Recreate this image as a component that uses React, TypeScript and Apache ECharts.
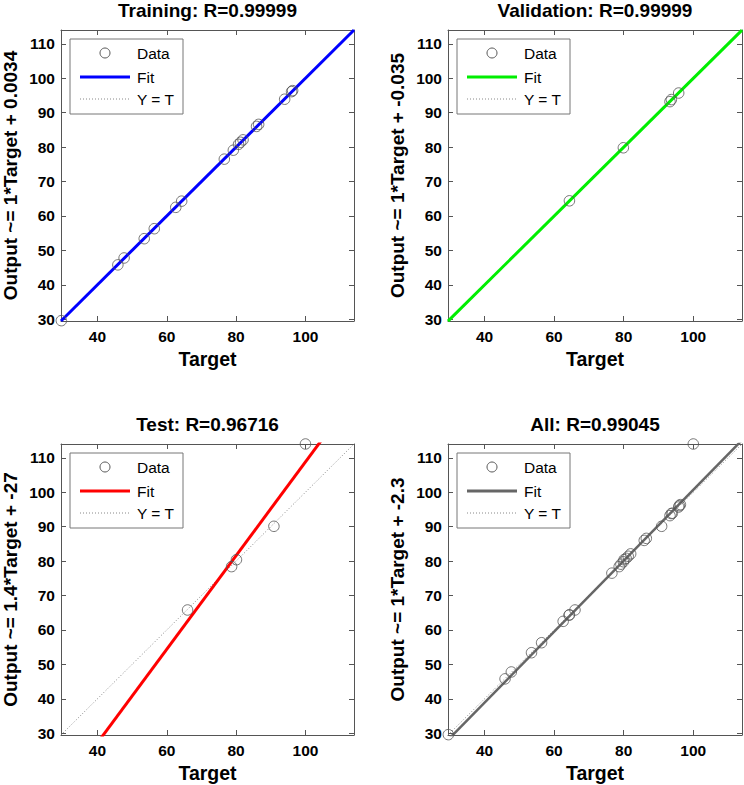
import React, { useEffect, useRef } from "react";
import * as echarts from "echarts";

// ---- data ----
const axisMin = 29.5;
const axisMax = 114;
const xTicks = [40, 60, 80, 100];
const yTicks = [30, 40, 50, 60, 70, 80, 90, 100, 110];

const trainTarget = [29.6, 45.9, 47.7, 53.5, 56.4, 62.6, 64.3, 76.6, 79.2, 80.7, 81.3, 82.0, 85.9, 86.5, 94.0, 96.0, 96.3];
const trainOutput = [29.6, 45.8, 47.8, 53.4, 56.3, 62.5, 64.3, 76.5, 79.1, 80.8, 81.4, 82.1, 86.0, 86.6, 93.9, 96.1, 96.4];

const valTarget = [64.4, 79.9, 93.3, 93.7, 95.8];
const valOutput = [64.4, 79.8, 93.2, 93.8, 95.7];

const testTarget = [66.0, 78.7, 80.1, 90.9, 100.0];
const testOutput = [65.8, 78.4, 80.4, 90.1, 114.0];

const panelTitles = ["Training: R=0.99999", "Validation: R=0.99999", "Test: R=0.96716", "All: R=0.99045"];
const yLabels = [
  "Output ~= 1*Target + 0.0034",
  "Output ~= 1*Target + -0.035",
  "Output ~= 1.4*Target + -27",
  "Output ~= 1*Target + -2.3",
];
const fitSlope = [1, 1, 1.36, 1.03];
const fitIntercept = [0.0034, -0.035, -27.2, -2.3];
const fitColors = ["#0000ff", "#00ee00", "#ff0000", "#666666"];

// ---- layout ----
const layout = [
  { left: 61, top: 30, width: 293, height: 291 },
  { left: 448, top: 30, width: 294, height: 291 },
  { left: 61, top: 444, width: 293, height: 291 },
  { left: 448, top: 444, width: 294, height: 291 },
];

const FONT = '"Liberation Sans", Arial, sans-serif';

function zip(a: number[], b: number[]) {
  return a.map((v, i) => [v, b[i]]);
}

export default function App() {
  const ref = useRef<HTMLDivElement>(null);
  useEffect(() => {
    if (!ref.current) return;
    const chart = echarts.init(ref.current, null, { renderer: "svg" });

    const allTarget = [...trainTarget, ...valTarget, ...testTarget];
    const allOutput = [...trainOutput, ...valOutput, ...testOutput];
    const pointSets = [
      zip(trainTarget, trainOutput),
      zip(valTarget, valOutput),
      zip(testTarget, testOutput),
      zip(allTarget, allOutput),
    ];

    const grids: any[] = [];
    const xAxes: any[] = [];
    const yAxes: any[] = [];
    const series: any[] = [];
    const graphics: any[] = [];

    const axisLineStyle = { color: "#555", width: 1 };

    layout.forEach((p, i) => {
      grids.push({
        left: p.left,
        top: p.top,
        width: p.width,
        height: p.height,
        containLabel: false,
        outerBoundsMode: "none",
        show: false,
      });
      const baseX = {
        type: "value",
        gridIndex: i,
        min: axisMin,
        max: axisMax,
        splitLine: { show: false },
        axisLine: { show: true, onZero: false, lineStyle: axisLineStyle },
        axisTick: { show: true, inside: true, length: 5, customValues: xTicks, lineStyle: axisLineStyle },
      };
      xAxes.push({
        ...baseX,
        position: "bottom",
        axisLabel: {
          customValues: xTicks,
          margin: 7,
          color: "#000",
          fontSize: 15.5,
          fontWeight: "bold",
          fontFamily: FONT,
        },
      });
      xAxes.push({ ...baseX, position: "top", axisLabel: { show: false } });
      const baseY = {
        type: "value",
        gridIndex: i,
        min: axisMin,
        max: axisMax,
        splitLine: { show: false },
        axisLine: { show: true, onZero: false, lineStyle: axisLineStyle },
        axisTick: { show: true, inside: true, length: 5, customValues: yTicks, lineStyle: axisLineStyle },
      };
      yAxes.push({
        ...baseY,
        position: "left",
        axisLabel: {
          customValues: yTicks,
          margin: 6,
          color: "#000",
          fontSize: 15.5,
          fontWeight: "bold",
          fontFamily: FONT,
        },
      });
      yAxes.push({ ...baseY, position: "right", axisLabel: { show: false } });

      const s = fitSlope[i];
      const b = fitIntercept[i];
      series.push({
        type: "line",
        xAxisIndex: 2 * i,
        yAxisIndex: 2 * i,
        data: [
          [axisMin, axisMin],
          [axisMax, axisMax],
        ],
        symbol: "none",
        silent: true,
        lineStyle: { color: "#888", width: 1, type: [1, 2] },
        z: 2,
      });
      series.push({
        type: "line",
        xAxisIndex: 2 * i,
        yAxisIndex: 2 * i,
        data: [
          [axisMin, s * axisMin + b],
          [axisMax, s * axisMax + b],
        ],
        symbol: "none",
        silent: true,
        clip: true,
        lineStyle: { color: fitColors[i], width: i === 3 ? 2.5 : 3 },
        z: 3,
      });
      series.push({
        type: "scatter",
        xAxisIndex: 2 * i,
        yAxisIndex: 2 * i,
        data: pointSets[i],
        symbol: "circle",
        symbolSize: 10.5,
        silent: true,
        itemStyle: { color: "rgba(0,0,0,0)", borderColor: "#555", borderWidth: 1 },
        z: 5,
      });

      const cx = p.left + p.width / 2;
      const cy = p.top + p.height / 2;
      const textStyle = (text: string, size: number, weight: string, align: string) => ({
        text,
        fill: "#000",
        fontSize: size,
        fontWeight: weight,
        fontFamily: FONT,
        align,
        textAlign: align,
        verticalAlign: "middle",
        textVerticalAlign: "middle",
      });
      // title
      graphics.push({
        type: "text",
        x: cx,
        y: p.top - 20,
        style: textStyle(panelTitles[i], 19, "bold", "center"),
      });
      // x label
      graphics.push({
        type: "text",
        x: cx,
        y: p.top + p.height + 38,
        style: textStyle("Target", 19.5, "bold", "center"),
      });
      // y label
      graphics.push({
        type: "text",
        x: p.left - 51,
        y: cy,
        rotation: Math.PI / 2,
        style: textStyle(yLabels[i], 19, "bold", "center"),
      });
      // legend
      const lx = p.left + 9;
      const ly = p.top + 9;
      graphics.push({
        type: "rect",
        shape: { x: lx, y: ly, width: 113, height: 75 },
        style: { fill: "#fff", stroke: "#777", lineWidth: 1 },
        z: 20,
      });
      graphics.push({
        type: "circle",
        shape: { cx: p.left + 44, cy: p.top + 23, r: 5 },
        style: { fill: "none", stroke: "#555", lineWidth: 1 },
        z: 21,
      });
      graphics.push({
        type: "line",
        shape: { x1: p.left + 19, y1: p.top + 47, x2: p.left + 69, y2: p.top + 47 },
        style: { stroke: fitColors[i], lineWidth: 3 },
        z: 21,
      });
      graphics.push({
        type: "line",
        shape: { x1: p.left + 19, y1: p.top + 69, x2: p.left + 69, y2: p.top + 69 },
        style: { stroke: "#888", lineWidth: 1, lineDash: [1, 2] },
        z: 21,
      });
      const legendTexts = ["Data", "Fit", "Y = T"];
      const rowsY = [23, 47, 69];
      legendTexts.forEach((t, k) => {
        graphics.push({
          type: "text",
          x: p.left + 76,
          y: p.top + rowsY[k],
          style: textStyle(t, 15.5, "normal", "left"),
          z: 21,
        });
      });
    });

    chart.setOption({
      animation: false,
      backgroundColor: "#fff",
      grid: grids,
      xAxis: xAxes,
      yAxis: yAxes,
      series,
      graphic: { elements: graphics },
    });
    return () => chart.dispose();
  }, []);
  return (
    <div
      ref={ref}
      style={{ position: "fixed", left: 0, top: 0, width: 744, height: 785, background: "#fff" }}
    />
  );
}
